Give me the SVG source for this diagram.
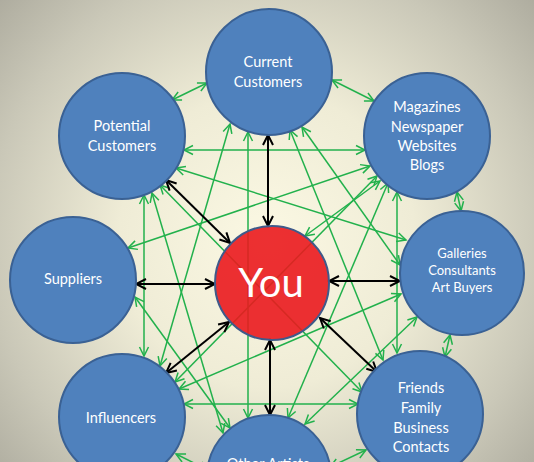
<svg xmlns="http://www.w3.org/2000/svg" width="534" height="462" viewBox="0 0 534 462">
<defs>
<radialGradient id="bg" gradientUnits="userSpaceOnUse" cx="267" cy="240" r="370">
<stop offset="0" stop-color="#FBF8E3"/>
<stop offset="0.4" stop-color="#EFECD6"/>
<stop offset="0.75" stop-color="#CAC8B8"/>
<stop offset="1" stop-color="#ABA99C"/>
</radialGradient>
<marker id="ag" markerUnits="userSpaceOnUse" markerWidth="12" markerHeight="12" refX="9" refY="4.5" orient="auto-start-reverse" viewBox="-1 -1 12 11">
<path d="M0,0 L9,4.5 L0,9" fill="none" stroke="#22B14C" stroke-width="1.5"/>
</marker>
<marker id="ab" markerUnits="userSpaceOnUse" markerWidth="13" markerHeight="13" refX="10" refY="5" orient="auto-start-reverse" viewBox="-1 -1 13 12">
<path d="M0,0 L10,5 L0,10" fill="none" stroke="#000" stroke-width="2"/>
</marker>
</defs>
<style>
.g{stroke:#22B14C;stroke-width:1.5;fill:none;marker-start:url(#ag);marker-end:url(#ag)}
.b{stroke:#000;stroke-width:2;fill:none;marker-start:url(#ab);marker-end:url(#ab)}
.n{fill:#4F81BD;stroke:#3A6194;stroke-width:2}
.t{font-family:Lato,"Liberation Sans",sans-serif;font-size:14.5px;fill:#fff;text-anchor:middle}
.s{font-size:13px}
</style>
<rect width="534" height="462" fill="url(#bg)"/>
<g id="connectors">
<line class="g" x1="172" y1="100" x2="207" y2="83"/>
<line class="g" x1="332" y1="80" x2="374" y2="101"/>
<line class="g" x1="457" y1="192" x2="461" y2="211"/>
<line class="g" x1="450" y1="335" x2="445" y2="357"/>
<line class="g" x1="366" y1="450" x2="330" y2="467"/>
<line class="g" x1="176" y1="454" x2="208" y2="470"/>
<line class="g" x1="184" y1="150" x2="365" y2="150"/>
<line class="g" x1="184" y1="404" x2="358" y2="404"/>
<line class="g" x1="144" y1="195" x2="144" y2="356"/>
<line class="g" x1="397" y1="192" x2="397" y2="353"/>
<line class="g" x1="248" y1="132" x2="248" y2="418"/>
<line class="g" x1="230" y1="124" x2="160" y2="366"/>
<line class="g" x1="176" y1="168" x2="406" y2="240"/>
<line class="g" x1="128" y1="248" x2="370" y2="166"/>
<line class="g" x1="288" y1="418" x2="388" y2="183"/>
<line class="g" x1="377" y1="176" x2="175" y2="382"/>
<line class="g" x1="380" y1="181" x2="305" y2="236"/>
<line class="g" x1="179" y1="389" x2="401" y2="294"/>
<line class="g" x1="302" y1="127" x2="400" y2="265"/>
<line class="g" x1="290" y1="130" x2="383" y2="360"/>
<line class="g" x1="160" y1="185" x2="362" y2="392"/>
<line class="g" x1="135" y1="297" x2="230" y2="428"/>
<line class="g" x1="152" y1="193" x2="223" y2="433"/>
<line class="g" x1="305" y1="424" x2="417" y2="317"/>
<line class="b" x1="268" y1="135" x2="268" y2="226"/>
<line class="b" x1="166" y1="180" x2="230" y2="243"/>
<line class="b" x1="136" y1="284" x2="215" y2="284"/>
<line class="b" x1="166" y1="373" x2="229" y2="322"/>
<line class="b" x1="270" y1="340" x2="270" y2="415"/>
<line class="b" x1="320" y1="318" x2="377" y2="372"/>
<line class="b" x1="329" y1="281" x2="400" y2="281"/>
</g>
<g id="current-customers"><circle class="n" cx="269" cy="72" r="63"/><text class="t" x="268" y="67">Current</text><text class="t" x="268" y="87">Customers</text></g>
<g id="magazines"><circle class="n" cx="427" cy="136" r="63"/><text class="t" x="427" y="112">Magazines</text><text class="t" x="427" y="132">Newspaper</text><text class="t" x="427" y="151">Websites</text><text class="t" x="427" y="170">Blogs</text></g>
<g id="galleries"><circle class="n" cx="462" cy="273" r="62"/><text class="t s" x="462" y="258">Galleries</text><text class="t s" x="462" y="275">Consultants</text><text class="t s" x="462" y="292">Art Buyers</text></g>
<g id="friends"><circle class="n" cx="420" cy="414" r="63"/><text class="t" x="421" y="393">Friends</text><text class="t" x="421" y="413">Family</text><text class="t" x="421" y="433">Business</text><text class="t" x="421" y="452">Contacts</text></g>
<g id="other-artists"><circle class="n" cx="269" cy="477" r="62"/><text class="t" x="268" y="469">Other Artists</text></g>
<g id="influencers"><circle class="n" cx="122" cy="417" r="63"/><text class="t" x="121" y="423">Influencers</text></g>
<g id="suppliers"><circle class="n" cx="73" cy="280" r="63"/><text class="t" x="73" y="284">Suppliers</text></g>
<g id="potential-customers"><circle class="n" cx="122" cy="136" r="63"/><text class="t" x="122" y="131">Potential</text><text class="t" x="122" y="151">Customers</text></g>
<g id="you"><circle cx="272" cy="283" r="57" fill="#EA1A1E" fill-opacity="0.9" stroke="#3F5A8A" stroke-width="2"/><text class="t" x="271" y="297" style="font-size:40px">You</text></g>
</svg>
